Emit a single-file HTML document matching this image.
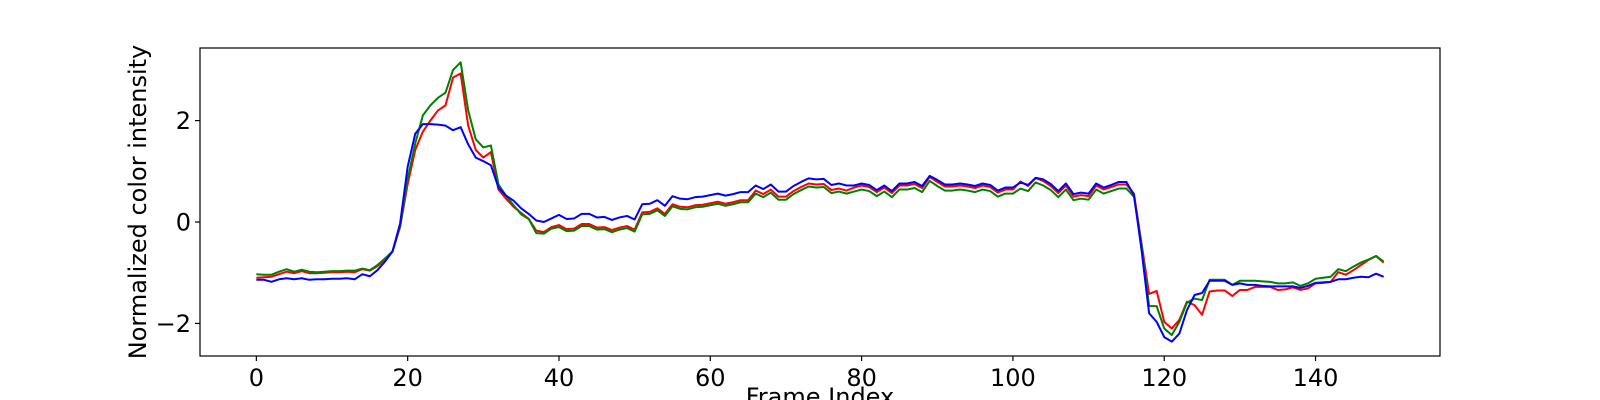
<!DOCTYPE html>
<html><head><meta charset="utf-8"><style>
body{margin:0;background:#fff;}
svg{display:block;font-family:"DejaVu Sans","Liberation Sans",sans-serif;}
</style></head><body>
<svg id="chart" width="1600" height="400" viewBox="0 0 1600 400" xmlns="http://www.w3.org/2000/svg">
<rect x="0" y="0" width="1600" height="400" fill="#fff"/>
<g id="plot"></g>
<g id="axes"></g>
<text x="0" y="0" transform="translate(146,202) rotate(-90)" text-anchor="middle" font-size="24" fill="#000">Normalized color intensity</text>
<text x="820" y="405" text-anchor="middle" font-size="24" fill="#000">Frame Index</text>
</svg>
<script>
const xTicks = [0,20,40,60,80,100,120,140];
const yTicks = [-2,0,2];
const yTickLabels = ["\u22122","0","2"];
const redSeries = [-1.10,-1.09,-1.08,-1.03,-0.98,-1.01,-0.97,-1.01,-1.01,-1.00,-0.99,-0.99,-0.98,-0.99,-0.93,-0.96,-0.87,-0.74,-0.58,-0.10,
0.75,1.42,1.78,2.0,2.2,2.3,2.85,2.93,1.9,1.42,1.27,1.38,0.64,0.46,0.30,0.18,0.06,-0.17,-0.2,-0.1,
-0.06,-0.14,-0.13,-0.04,-0.04,-0.11,-0.10,-0.16,-0.11,-0.08,-0.15,0.19,0.20,0.27,0.16,0.35,0.30,0.29,0.33,0.34,0.37,0.40,0.36,0.39,0.43,0.43,0.62,0.55,0.64,0.50,0.50,0.61,0.69,0.76,0.74,0.75,0.63,0.66,0.62,
0.68,0.72,0.69,0.59,0.68,0.57,0.72,0.72,0.75,0.67,0.89,0.79,0.70,0.70,0.72,0.70,0.67,0.72,0.69,0.58,0.64,0.64,0.80,0.71,0.87,0.81,0.71,0.57,0.72,0.50,0.53,0.51,0.72,0.64,0.69,0.74,0.74,0.56,
-0.42,-1.42,-1.36,-1.97,-2.1,-1.93,-1.57,-1.64,-1.83,-1.37,-1.35,-1.35,-1.46,-1.34,-1.34,-1.28,-1.28,-1.28,-1.34,-1.33,-1.29,-1.34,-1.31,-1.21,-1.2,-1.18,-0.99,-1.04,-0.95,-0.85,-0.75,-0.67,-0.8];
const greenSeries = [-1.03,-1.04,-1.04,-0.98,-0.93,-0.98,-0.94,-0.98,-0.99,-0.98,-0.97,-0.97,-0.96,-0.96,-0.92,-0.95,-0.85,-0.72,-0.58,-0.08,
0.85,1.55,2.1,2.3,2.45,2.55,3.0,3.15,2.2,1.63,1.47,1.51,0.74,0.52,0.33,0.15,0.06,-0.22,-0.23,-0.13,
-0.10,-0.18,-0.17,-0.08,-0.08,-0.15,-0.14,-0.20,-0.15,-0.12,-0.19,0.15,0.16,0.23,0.12,0.31,0.26,0.25,0.29,0.30,0.33,0.36,0.32,0.35,0.39,0.39,0.56,0.49,0.58,0.44,0.44,0.55,0.63,0.70,0.68,0.69,0.57,0.60,0.56,
0.60,0.64,0.61,0.51,0.60,0.49,0.64,0.64,0.67,0.59,0.81,0.71,0.62,0.62,0.64,0.62,0.59,0.64,0.61,0.50,0.56,0.56,0.66,0.61,0.78,0.72,0.63,0.49,0.64,0.43,0.46,0.44,0.64,0.56,0.61,0.66,0.66,0.50,
-0.45,-1.66,-1.66,-2.1,-2.23,-1.97,-1.59,-1.51,-1.54,-1.14,-1.14,-1.14,-1.24,-1.16,-1.16,-1.16,-1.17,-1.18,-1.21,-1.21,-1.19,-1.26,-1.21,-1.12,-1.1,-1.08,-0.93,-0.97,-0.88,-0.8,-0.74,-0.67,-0.78];
const blueSeries = [-1.14,-1.14,-1.18,-1.13,-1.11,-1.13,-1.11,-1.14,-1.13,-1.13,-1.12,-1.12,-1.11,-1.13,-1.03,-1.07,-0.95,-0.78,-0.58,-0.03,
1.09,1.74,1.93,1.93,1.92,1.90,1.81,1.87,1.53,1.27,1.20,1.12,0.68,0.52,0.42,0.27,0.16,0.03,0.00,0.07,
0.14,0.06,0.07,0.16,0.16,0.09,0.10,0.04,0.09,0.12,0.05,0.35,0.36,0.43,0.32,0.51,0.46,0.45,0.49,0.50,0.53,0.56,0.52,0.55,0.59,0.59,0.72,0.65,0.74,0.60,0.60,0.71,0.79,0.86,0.84,0.85,0.73,0.76,0.72,
0.72,0.76,0.73,0.63,0.72,0.61,0.76,0.76,0.79,0.71,0.91,0.83,0.74,0.74,0.76,0.74,0.71,0.76,0.73,0.62,0.68,0.68,0.78,0.73,0.87,0.84,0.75,0.61,0.76,0.55,0.58,0.56,0.76,0.68,0.73,0.79,0.79,0.53,
-0.55,-1.8,-1.97,-2.27,-2.36,-2.2,-1.74,-1.44,-1.4,-1.16,-1.16,-1.16,-1.24,-1.21,-1.24,-1.24,-1.26,-1.27,-1.27,-1.27,-1.27,-1.3,-1.26,-1.2,-1.19,-1.18,-1.13,-1.13,-1.1,-1.08,-1.09,-1.02,-1.08];

const NS="http://www.w3.org/2000/svg";
const L=200,R=1440,T=48,B=356;
const xMin=-7.45,xMax=156.45,yMin=-2.643,yMax=3.432;
function xs(v){return L+(v-xMin)/(xMax-xMin)*(R-L);}
function ys(v){return B-(v-yMin)/(yMax-yMin)*(B-T);}
const plot=document.getElementById('plot');
const axes=document.getElementById('axes');
function mk(tag,attrs,parent){const e=document.createElementNS(NS,tag);for(const k in attrs)e.setAttribute(k,attrs[k]);parent.appendChild(e);return e;}

const series=[[redSeries,'#ff0000','red-series-line'],[greenSeries,'#008000','green-series-line'],[blueSeries,'#0000ff','blue-series-line']];
series.forEach(s=>{
  const pts=s[0].map((v,i)=>xs(i).toFixed(2)+','+ys(v).toFixed(2)).join(' ');
  const pl=mk('polyline',{points:pts,fill:'none',stroke:s[1],'stroke-width':2,'stroke-linejoin':'round'},plot);
  
  
});

const frame=mk('rect',{x:L,y:T,width:R-L,height:B-T,fill:'none',stroke:'#000','stroke-width':1.2},axes);



xTicks.forEach(t=>{
  const x=xs(t);
  const tk=mk('line',{x1:x,y1:B,x2:x,y2:B+5,stroke:'#000','stroke-width':1.2},axes);
  
  
  const tx=mk('text',{x:x,y:B+30,'text-anchor':'middle','font-size':24,fill:'#000'},axes);
  tx.textContent=String(t);
  
  
});
yTicks.forEach((t,i)=>{
  const y=ys(t);
  const tk=mk('line',{x1:L-5,y1:y,x2:L,y2:y,stroke:'#000','stroke-width':1.2},axes);
  
  
  const tx=mk('text',{x:L-9,y:y+8.5,'text-anchor':'end','font-size':24,fill:'#000'},axes);
  tx.textContent=yTickLabels[i];
  
  
});
</script>
</body></html>
